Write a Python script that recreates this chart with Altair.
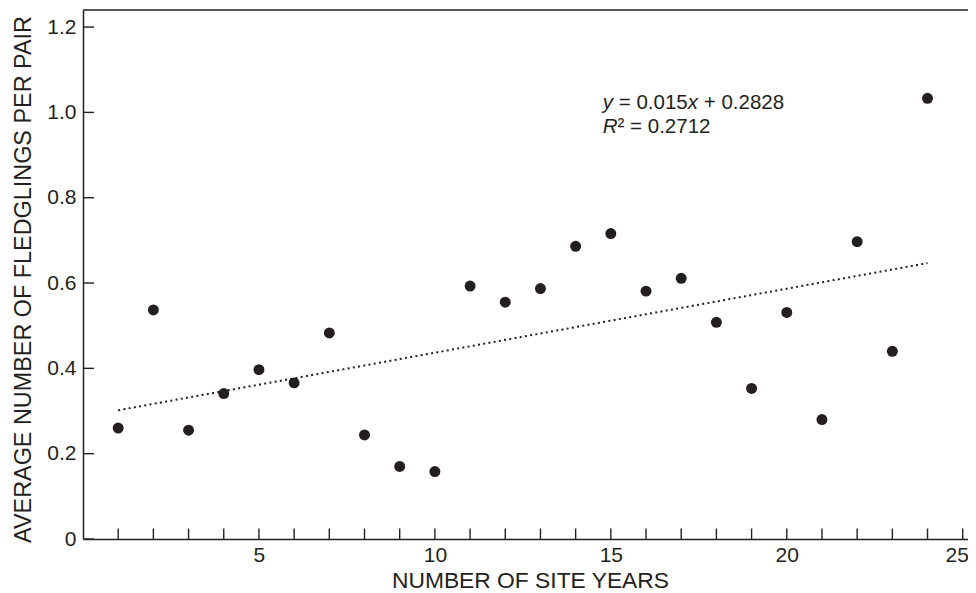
import altair as alt
import pandas as pd

# ---- data ----
site_years = list(range(1, 25))
fledglings = [0.260, 0.537, 0.255, 0.341, 0.397, 0.366, 0.483, 0.244,
              0.170, 0.158, 0.593, 0.555, 0.587, 0.686, 0.716, 0.581,
              0.611, 0.508, 0.353, 0.531, 0.280, 0.697, 0.440, 1.033]

x_minor_ticks = list(range(1, 26))
x_labels = [5, 10, 15, 20, 25]
y_ticks = [0, 0.2, 0.4, 0.6, 0.8, 1.0, 1.2]

x_domain = [0, 25.15]
y_domain = [0, 1.24]

eq_line1 = ["y", "= 0.015", "x", "+ 0.2828"]
eq_line2 = ["R", "\u00b2 = 0.2712"]
eq_anchor_x = 14.77
eq_anchor_y = [1.008, 0.951]

INK = "#231f20"
FONT = "Liberation Sans"

df = pd.DataFrame({"x": site_years, "y": fledglings})
df_xt = pd.DataFrame({"x": x_minor_ticks, "y": [0] * len(x_minor_ticks)})
df_yt = pd.DataFrame({"x": [0] * len(y_ticks), "y": y_ticks})

xs = alt.Scale(domain=x_domain, nice=False, zero=False)
ys = alt.Scale(domain=y_domain, nice=False)

x_axis = alt.Axis(values=x_labels, ticks=False, tickSize=0, grid=False,
                  labelPadding=5, title="NUMBER OF SITE YEARS",
                  titlePadding=4, titleFontSize=22.8, titleX=447, labelFlush=False,
                  labelOffset={"condition": {"test": "datum.value == 25", "value": -6},
                               "value": 0})
y_axis = alt.Axis(values=y_ticks, ticks=False, tickSize=0, grid=False,
                  labelPadding=7,
                  labelExpr="datum.value == 0 ? '0' : format(datum.value, '.1f')",
                  title="AVERAGE NUMBER OF FLEDGLINGS PER PAIR",
                  titlePadding=11, titleY=269)

base = alt.Chart(df)

points = base.mark_circle(size=120, color=INK, opacity=1).encode(
    x=alt.X("x:Q", scale=xs, axis=x_axis),
    y=alt.Y("y:Q", scale=ys, axis=y_axis),
)

trend = base.transform_regression("x", "y").mark_line(
    color=INK, strokeWidth=2, strokeDash=[2, 3.3]
).encode(x="x:Q", y="y:Q")

xticks = alt.Chart(df_xt).mark_tick(
    orient="vertical", size=21, thickness=1.4, color=INK, clip=True, opacity=1
).encode(x="x:Q", y="y:Q")

yticks = alt.Chart(df_yt).mark_tick(
    orient="horizontal", size=22, thickness=1.4, color=INK, clip=True, opacity=1
).encode(x="x:Q", y="y:Q")

top_border = alt.Chart(pd.DataFrame({"a": [0]})).mark_rule(
    color=INK, strokeWidth=1.5
).encode(
    x=alt.datum(x_domain[0]), x2=alt.datum(x_domain[1]), y=alt.datum(y_domain[1])
)

ann_df1 = pd.DataFrame({"x": [eq_anchor_x], "y": [eq_anchor_y[0]]})
ann_df2 = pd.DataFrame({"x": [eq_anchor_x], "y": [eq_anchor_y[1]]})

def piece(dfp, txt, dx, italic):
    kw = dict(text=txt, dx=dx, align="left", baseline="alphabetic",
              font=FONT, fontSize=20.5, color=INK)
    if italic:
        kw["fontStyle"] = "italic"
    return alt.Chart(dfp).mark_text(**kw).encode(x="x:Q", y="y:Q")

ann = [
    piece(ann_df1, eq_line1[0], 0, True),
    piece(ann_df1, eq_line1[1], 16, False),
    piece(ann_df1, eq_line1[2], 85, True),
    piece(ann_df1, eq_line1[3], 101, False),
    piece(ann_df2, eq_line2[0], 0, True),
    piece(ann_df2, eq_line2[1], 14.8, False),
]

chart = alt.layer(points, trend, xticks, yticks, top_border, *ann).properties(
    width=885, height=529,
    autosize=alt.AutoSizeParams(type="none"),
    padding={"left": 75, "top": 2, "right": 0, "bottom": 55},
).configure_view(stroke=None).configure_axis(
    domainColor=INK, domainWidth=1.5,
    labelFont=FONT, labelFontSize=21, labelColor=INK,
    titleFont=FONT, titleFontSize=23.4, titleFontWeight="normal", titleColor=INK,
)

chart.save("out.html", embed_options={"renderer": "svg", "actions": False})
